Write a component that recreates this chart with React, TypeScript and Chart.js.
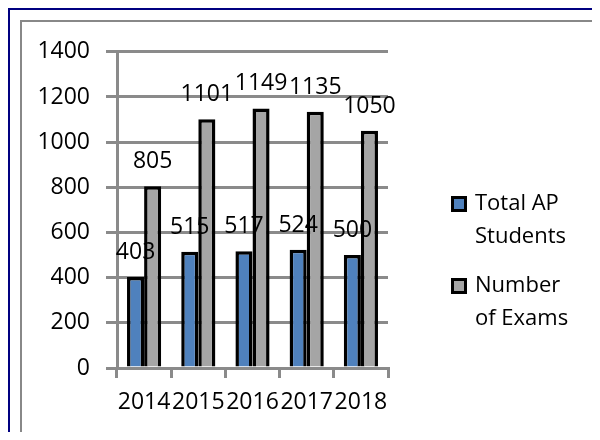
import React, { useEffect, useRef } from "react";
import { Chart, registerables } from "chart.js";

Chart.register(...registerables);

const categories = ["2014", "2015", "2016", "2017", "2018"];
const totalApStudents = [403, 515, 517, 524, 500];
const numberOfExams = [805, 1101, 1149, 1135, 1050];
const seriesNames = ["Total AP Students", "Number of Exams"];
const legendLines = [
  ["Total AP", "Students"],
  ["Number", "of Exams"],
];
const yTicks = [0, 200, 400, 600, 800, 1000, 1200, 1400];

const FONT_FAMILY = "'Open Sans', 'DejaVu Sans', sans-serif";
const NUM_SIZE = 23;
const LEGEND_SIZE = 22;
const BLUE = "#4F81BD";
const GRAY = "#A5A5A5";
const GRID = "#8A8A8A";

export default function App() {
  const canvasRef = useRef<HTMLCanvasElement | null>(null);

  useEffect(() => {
    document.documentElement.style.overflow = "hidden";
    const canvas = canvasRef.current;
    if (!canvas) return;

    const labelsPlugin = {
      id: "barLabels",
      afterDatasetsDraw(chart: any) {
        const ctx = chart.ctx;
        ctx.save();
        ctx.font = `${NUM_SIZE}px ${FONT_FAMILY}`;
        ctx.fillStyle = "#000";
        ctx.textAlign = "center";
        ctx.textBaseline = "alphabetic";
        chart.data.datasets.forEach((ds: any, dsIndex: number) => {
          const meta = chart.getDatasetMeta(dsIndex);
          meta.data.forEach((el: any, i: number) => {
            ctx.fillText(String(ds.data[i]), el.x, el.y - 18);
          });
        });
        ctx.restore();
      },
    };

    const legendPlugin = {
      id: "sideLegend",
      afterDraw(chart: any) {
        const ctx = chart.ctx;
        const markerX = 429;
        const textX = 453;
        const firstY = 182;
        const lineH = 33;
        const itemGap = 16;
        ctx.save();
        ctx.font = `${LEGEND_SIZE}px ${FONT_FAMILY}`;
        ctx.textAlign = "left";
        ctx.textBaseline = "middle";
        let y = firstY;
        chart.data.datasets.forEach((ds: any, i: number) => {
          const lines = legendLines[i];
          ctx.fillStyle = ds.backgroundColor;
          ctx.fillRect(markerX, y - 8, 16, 16);
          ctx.strokeStyle = "#000";
          ctx.lineWidth = 3;
          ctx.strokeRect(markerX + 1.5, y - 6.5, 13, 13);
          ctx.fillStyle = "#000";
          lines.forEach((ln, j) => {
            ctx.fillText(ln, textX, y + j * lineH);
          });
          y += lines.length * lineH + itemGap;
        });
        ctx.restore();
      },
    };

    const chart = new Chart(canvas, {
      type: "bar",
      data: {
        labels: categories,
        datasets: [
          {
            label: seriesNames[0],
            data: totalApStudents,
            backgroundColor: BLUE,
            borderColor: "#000",
            borderWidth: 3.5,
            categoryPercentage: 0.63,
            barPercentage: 1,
          },
          {
            label: seriesNames[1],
            data: numberOfExams,
            backgroundColor: GRAY,
            borderColor: "#000",
            borderWidth: 3.5,
            categoryPercentage: 0.63,
            barPercentage: 1,
          },
        ],
      },
      options: {
        responsive: false,
        animation: false,
        devicePixelRatio: 1,
        layout: { padding: { left: 0, top: 27, right: 206, bottom: 0 } },
        plugins: {
          legend: { display: false },
          tooltip: { enabled: false },
        },
        scales: {
          x: {
            offset: true,
            grid: {
              display: true,
              drawOnChartArea: false,
              drawTicks: true,
              tickLength: 10,
              color: GRID,
              lineWidth: 3,
              offset: true,
            },
            border: { display: true, color: GRID, width: 3 },
            ticks: {
              color: "#000",
              font: { family: FONT_FAMILY, size: NUM_SIZE },
              padding: 11,
              maxRotation: 0,
              minRotation: 0,
              autoSkip: false,
            },
            afterFit(scale: any) {
              scale.height = 67;
            },
          },
          y: {
            min: 0,
            max: 1400,
            afterBuildTicks(scale: any) {
              scale.ticks = yTicks.map((v) => ({ value: v }));
            },
            grid: {
              color: GRID,
              lineWidth: 3,
              tickLength: 11,
              drawTicks: true,
            },
            border: { display: true, color: GRID, width: 3 },
            ticks: {
              color: "#000",
              font: { family: FONT_FAMILY, size: NUM_SIZE },
              padding: 16,
              callback: (v: any) => String(v),
            },
            afterFit(scale: any) {
              scale.width = 95;
            },
          },
        },
      },
      plugins: [labelsPlugin, legendPlugin],
    });

    return () => chart.destroy();
  }, []);

  return (
    <div
      style={{
        borderTop: "2px solid #000080",
        borderLeft: "2px solid #000080",
        height: 432,
        marginRight: -8,
        marginBottom: -8,
        paddingTop: 10,
        paddingLeft: 10,
        boxSizing: "border-box",
        background: "#fff",
      }}
    >
      <div
        style={{
          border: "2px solid #888",
          width: 572,
          height: 413,
          background: "#fff",
        }}
      >
        <canvas ref={canvasRef} width={572} height={413} style={{ display: "block", width: 572, height: 413 }} />
      </div>
    </div>
  );
}
